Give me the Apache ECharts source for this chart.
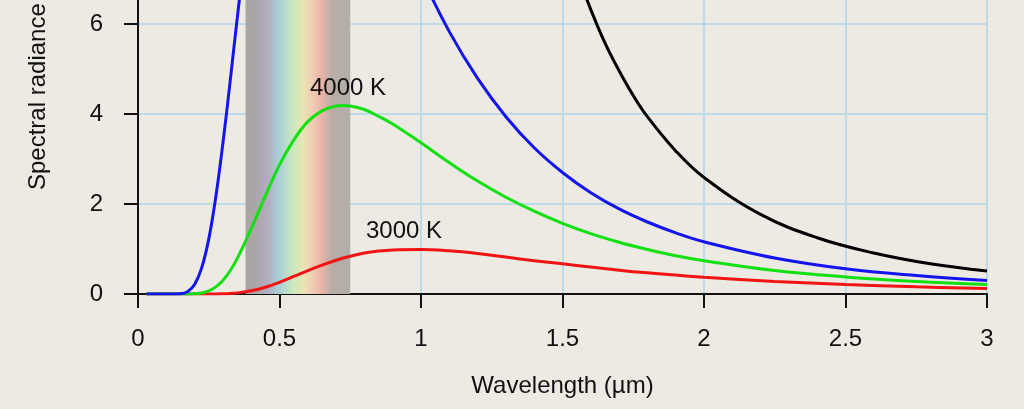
<!DOCTYPE html>
<html>
<head>
<meta charset="utf-8">
<title>Blackbody radiation</title>
<script src="https://cdn.jsdelivr.net/npm/echarts@6/dist/echarts.min.js"></script>
<style>
  html, body { margin: 0; padding: 0; background: #edeae3; }
  #chart { width: 1024px; height: 409px; }
</style>
</head>
<body>
<div id="chart"></div>
<script>
// wavelengths in um, shared by the three blackbody curves
var wavelength = [0.03, 0.1, 0.15, 0.175, 0.2, 0.225, 0.25, 0.275, 0.3, 0.325, 0.35, 0.4, 0.45, 0.5,
  0.55, 0.6, 0.65, 0.7, 0.725, 0.75, 0.8, 0.85, 0.9, 1.0, 1.1, 1.2, 1.3, 1.4, 1.5, 1.6, 1.7, 1.8, 1.9,
  2.0, 2.25, 2.5, 2.75, 3.0];

var t5000 = [0, 0, 0.007, 0.05, 0.21, 0.58, 1.22, 2.16, 3.35, 4.69, 6.09, 8.75, 10.8, 12.1,
  12.7, 12.76, 12.4, 11.8, 11.45, 11.06, 10.25, 9.41, 8.6, 7.1, 5.83, 4.79, 3.94, 3.25, 2.7, 2.25, 1.89, 1.6, 1.36,
  1.16, 0.8, 0.56, 0.41, 0.3];

var t4000 = [0, 0, 0, 0, 0.006, 0.023, 0.069, 0.158, 0.3, 0.51, 0.78, 1.45, 2.18, 2.87,
  3.42, 3.83, 4.07, 4.18, 4.19, 4.18, 4.1, 3.95, 3.78, 3.36, 2.92, 2.51, 2.15, 1.84, 1.57, 1.34, 1.15, 0.99, 0.85,
  0.74, 0.52, 0.38, 0.28, 0.21];

var t3000 = [0, 0, 0, 0, 0, 0, 0.001, 0.002, 0.006, 0.013, 0.025, 0.072, 0.15, 0.26,
  0.39, 0.52, 0.64, 0.75, 0.8, 0.84, 0.91, 0.955, 0.98, 0.99, 0.96, 0.9, 0.82, 0.74, 0.67, 0.6, 0.53, 0.47, 0.42,
  0.37, 0.28, 0.21, 0.16, 0.12];

// classical (Rayleigh-Jeans) curve, only its tail is on screen
var classicalX = [1.5, 1.55, 1.6, 1.65, 1.7, 1.75, 1.8, 1.9, 2.0, 2.2, 2.4, 2.6, 2.8, 3.0];
var classical = [8.18, 7.17, 6.32, 5.58, 4.96, 4.41, 3.94, 3.18, 2.59, 1.77, 1.25, 0.91, 0.67, 0.51];

var visibleBand = [0.38, 0.75];
var xTicks = [0, 3, 0.5];   // min, max, interval
var yTicks = [0, 8, 2];

function pairs(xs, ys) {
  return xs.map(function (x, i) { return [x, ys[i]]; });
}

var font = 'Liberation Sans, Arial, sans-serif';
var ink = '#111111';
var gridBlue = '#bcdbe7';

var chart = echarts.init(document.getElementById('chart'));

function curve(name, color, data, z) {
  return {
    name: name,
    type: 'line',
    data: data,
    showSymbol: false,
    smooth: 0.4,
    z: z,
    lineStyle: { color: color, width: 3 },
    itemStyle: { color: color }
  };
}

var red = curve('3000 K', '#f01414', pairs(wavelength, t3000), 3);
red.markPoint = {
  symbol: 'circle', symbolSize: 1, silent: true,
  itemStyle: { color: 'rgba(0,0,0,0)' },
  label: { show: true, position: 'inside', color: ink, fontSize: 24, fontFamily: font, formatter: '{b}' },
  data: [{ name: '3000 K', coord: [0.94, 1.4] }]
};

var green = curve('4000 K', '#12e012', pairs(wavelength, t4000), 4);
green.markPoint = {
  symbol: 'circle', symbolSize: 1, silent: true,
  itemStyle: { color: 'rgba(0,0,0,0)' },
  label: { show: true, position: 'inside', color: ink, fontSize: 24, fontFamily: font, formatter: '{b}' },
  data: [{ name: '4000 K', coord: [0.742, 4.56] }]
};

chart.setOption({
  animation: false,
  backgroundColor: '#edeae3',
  grid: { left: 138, right: 37, top: -66, bottom: 115, outerBoundsMode: 'none', containLabel: false },
  xAxis: {
    type: 'value',
    min: xTicks[0], max: xTicks[1], interval: xTicks[2],
    name: 'Wavelength (\u00b5m)',
    nameLocation: 'middle',
    nameGap: 80,
    nameTextStyle: { color: ink, fontSize: 24, fontFamily: font },
    axisLine: { lineStyle: { color: ink, width: 2 } },
    axisTick: { length: 14, lineStyle: { color: ink, width: 2 } },
    axisLabel: { margin: 33, color: ink, fontSize: 24, fontFamily: font },
    splitLine: { show: true, lineStyle: { color: gridBlue, width: 2 } }
  },
  yAxis: {
    type: 'value',
    min: yTicks[0], max: yTicks[1], interval: yTicks[2],
    axisLine: { show: true, lineStyle: { color: ink, width: 2 } },
    axisTick: { show: true, length: 14, lineStyle: { color: ink, width: 2 } },
    axisLabel: { margin: 35, color: ink, fontSize: 24, fontFamily: font },
    splitLine: { show: true, lineStyle: { color: gridBlue, width: 2 } }
  },
  graphic: [{
    type: 'text',
    x: 38, y: 190,
    rotation: Math.PI / 2,
    style: {
      text: 'Spectral radiance',
      fill: ink,
      font: '24px ' + font,
      textAlign: 'left',
      textVerticalAlign: 'middle'
    }
  }],
  series: [
    {
      // visible spectrum strip, kept under the grid lines
      type: 'line',
      data: [],
      z: -1,
      silent: true,
      markArea: {
        silent: true,
        itemStyle: {
          color: new echarts.graphic.LinearGradient(0, 0, 1, 0, [
            { offset: 0, color: '#a9a5a2' },
            { offset: 0.08, color: '#aaa6a7' },
            { offset: 0.2, color: '#b3aabb' },
            { offset: 0.32, color: '#a9cfd8' },
            { offset: 0.45, color: '#cbe7c0' },
            { offset: 0.55, color: '#e9e6b3' },
            { offset: 0.65, color: '#f1c9b3' },
            { offset: 0.73, color: '#e7b3a8' },
            { offset: 0.83, color: '#b7ada7' },
            { offset: 1, color: '#b3aea8' }
          ])
        },
        data: [[{ xAxis: visibleBand[0], yAxis: yTicks[0] }, { xAxis: visibleBand[1], yAxis: yTicks[1] }]]
      }
    },
    red,
    green,
    curve('5000 K', '#1414f0', pairs(wavelength, t5000), 5),
    curve('Classical theory', '#000000', pairs(classicalX, classical), 6)
  ]
});
</script>
</body>
</html>
